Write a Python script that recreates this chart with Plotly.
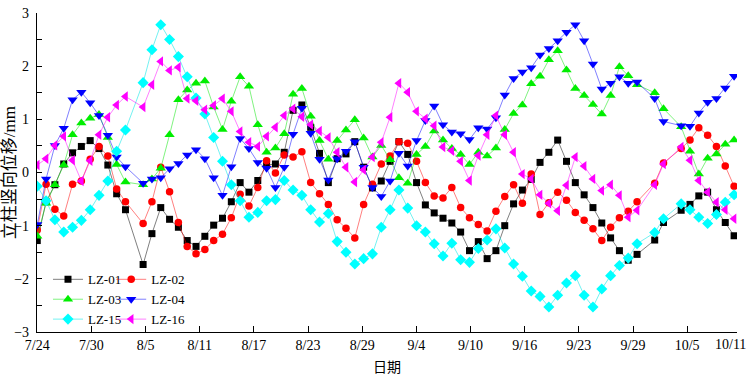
import plotly.graph_objects as go

# measurement slots (one per observation; a few dates have no reading)
slots = [0, 1, 2, 3, 4, 5, 6, 7, 8, 9, 10,
         12, 13, 14, 15, 16, 17, 18, 19, 20, 21, 22, 23, 24, 25, 26, 27, 28, 29,
         30, 31, 32, 33, 34, 35, 36, 37, 38, 39, 40, 41, 42, 43, 44, 45, 46, 47,
         48, 49, 50, 51, 52, 53, 54, 55, 56, 57, 58, 59, 60, 61, 62, 63, 64, 65,
         66, 67, 68, 70, 71, 73, 74, 75, 76, 77, 78, 79]

tick_labels = ["7/24", "7/30", "8/5", "8/11", "8/17", "8/23", "8/29", "9/4",
               "9/10", "9/16", "9/23", "9/29", "10/5", "10/11"]

lz01 = [-1.28, -0.55, -0.23, 0.16, 0.37, 0.49, 0.60, 0.45, 0.14, -0.40, -0.70,
        -1.73, -1.15, -0.66, -0.88, -1.03, -1.28, -1.39, -1.20, -0.99, -0.86, -0.55,
        -0.19, -0.37, -0.15, 0.14, 0.16, 0.38, 1.17, 1.27, 0.85, 0.36, -0.19, 0.26,
        0.35, 0.58, 0.10, -0.29, -0.16, 0.21, 0.58, 0.34, -0.19, -0.61, -0.76, -0.86,
        -0.95, -1.12, -1.47, -1.30, -1.62, -1.47, -1.00, -0.59, -0.33, -0.13, 0.19,
        0.38, 0.61, 0.21, -0.19, -0.42, -0.66, -0.95, -1.23, -1.47, -1.65, -1.54,
        -1.27, -0.94, -0.71, -0.60, -0.44, -0.37, -0.70, -0.94, -1.19]

lz02 = [-1.08, -0.22, -0.69, -0.82, -0.22, -0.16, 0.25, 0.49, 0.31, -0.31, -0.55,
        -0.96, -0.55, 0.10, -0.36, -0.94, -1.39, -1.53, -1.45, -1.28, -1.16, -0.85,
        -0.41, -0.63, -0.28, 0.22, -0.01, 0.33, 0.29, 0.39, -0.19, -0.40, -0.60,
        -0.89, -1.05, -1.23, -0.60, -0.22, 0.16, 0.31, 0.58, 0.55, 0.21, -0.19,
        -0.44, -0.48, -0.28, -0.66, -0.85, -0.98, -1.10, -0.73, -0.45, -0.23, -0.58,
        -0.03, -0.79, -0.57, -0.37, -0.52, -0.75, -0.90, -1.06, -1.28, -1.03, -0.85,
        -0.73, -0.55, -0.20, 0.18, 0.45, 0.61, 0.84, 0.70, 0.49, 0.12, -0.26]

lz03 = [-1.20, -0.58, -0.23, 0.14, 0.71, 0.93, 1.02, 1.09, 0.66, 0.15, -0.18,
        -0.23, -0.12, 0.08, 0.71, 1.37, 1.55, 1.68, 1.72, 1.23, 0.81, 1.34, 1.80,
        1.62, 0.90, 0.38, 0.46, 0.73, 1.47, 1.58, 1.06, 0.60, 0.25, 0.60, 0.80,
        0.99, 0.65, 0.29, 0.51, 0.24, -0.10, -0.20, 0.34, 0.49, 0.78, 0.61, 0.45,
        0.34, 0.15, 0.38, 0.31, 0.46, 0.81, 1.11, 1.27, 1.67, 1.81, 2.12, 2.29,
        1.93, 1.58, 1.45, 1.28, 1.10, 1.45, 1.99, 1.82, 1.65, 1.50, 1.20, 0.86,
        0.40, -0.03, 0.27, 0.35, 0.53, 0.61]

lz04 = [-0.98, -0.12, 0.51, 0.83, 1.37, 1.51, 1.31, 1.07, 0.70, 0.29, 0.11,
        -0.20, -0.12, -0.10, 0.07, 0.17, 0.33, 0.43, 0.26, -0.10, -0.43, 0.11,
        0.64, 0.45, 0.19, 0.08, -0.28, 0.10, 0.72, 1.21, 0.74, 0.25, -0.14, 0.26,
        0.40, 0.58, 0.10, -0.28, -0.45, -0.16, 0.36, 0.12, 0.60, 0.98, 1.25, 0.90,
        0.76, 0.73, 0.62, 0.84, 0.82, 1.03, 1.46, 1.77, 1.89, 1.97, 2.21, 2.33,
        2.48, 2.64, 2.78, 2.48, 2.04, 1.57, 1.68, 1.80, 1.68, 1.70, 1.39, 0.96,
        0.88, 0.87, 1.12, 1.32, 1.39, 1.59, 1.81]

lz15 = [-0.26, -0.53, -0.89, -1.12, -1.03, -0.90, -0.70, -0.43, -0.16, 0.40, 0.80,
        1.69, 2.31, 2.78, 2.50, 2.18, 1.80, 1.40, 1.10, 0.66, 0.21, -0.23, -0.53,
        -0.84, -0.75, -0.53, -0.51, -0.15, -0.33, -0.43, -0.70, -0.93, -0.77,
        -1.30, -1.50, -1.72, -1.62, -1.53, -1.03, -0.70, -0.33, -0.67, -1.00,
        -1.12, -1.34, -1.57, -1.33, -1.64, -1.69, -1.43, -1.27, -1.06, -1.42,
        -1.72, -1.95, -2.23, -2.33, -2.53, -2.31, -2.08, -1.94, -2.31, -2.53,
        -2.19, -1.94, -1.75, -1.61, -1.34, -1.13, -0.87, -0.59, -0.70, -0.84,
        -0.96, -0.79, -0.56, -0.42]

lz16 = [0.14, 0.26, 0.51, 0.68, 0.23, -0.16, 0.22, 0.71, 1.04, 1.27, 1.43,
        1.23, 1.65, 2.09, 1.92, 1.98, 1.39, 1.35, 1.18, 1.26, 1.39, 1.15, 0.77,
        0.57, 0.49, 0.68, 0.85, 1.07, 1.20, 1.05, 0.90, 0.78, 0.66, 0.38, 0.10,
        -0.18, 0.05, 0.29, 0.57, 1.04, 1.68, 1.51, 1.15, 1.01, 0.88, 0.48, 0.41,
        0.21, -0.15, 0.32, 0.71, 1.07, 0.71, 0.38, -0.03, -0.12, -0.42, -0.58,
        -0.72, -0.24, 0.29, 0.12, -0.12, -0.34, -0.23, -0.43, -0.84, -0.71, -0.23,
        0.16, 0.48, 0.23, -0.15, -0.37, -0.56, -0.70, -0.87]

series = [
    ("LZ-01", lz01, "#000000", "rgba(0,0,0,0.5)", "square", 7, "legend"),
    ("LZ-02", lz02, "#ff0000", "rgba(255,0,0,0.5)", "circle", 7.5, "legend2"),
    ("LZ-03", lz03, "#00ee00", "rgba(0,230,0,0.5)", "triangle-up", 9, "legend"),
    ("LZ-04", lz04, "#0000ff", "rgba(0,0,255,0.5)", "triangle-down", 9, "legend2"),
    ("LZ-15", lz15, "#00ffff", "rgba(0,230,230,0.55)", "diamond", 8.5, "legend"),
    ("LZ-16", lz16, "#ff00ff", "rgba(255,0,255,0.5)", "triangle-left", 9, "legend2"),
]

fig = go.Figure()
for name, vals, mc, lc, sym, sz, lg in series:
    fig.add_trace(go.Scatter(
        x=slots, y=vals, name=name, mode="lines+markers",
        line=dict(color=lc, width=1),
        marker=dict(color=mc, symbol=sym, size=sz, line=dict(width=0)),
        legend=lg,
    ))

tick_step = 6.14
tickvals = [i * tick_step for i in range(13)] + [79.3]
# last label is drawn separately so it stays inside the picture
ticktext = tick_labels[:-1] + [""]

serif = "Liberation Serif, Times New Roman, serif"
cjk = "Liberation Serif, Noto Sans CJK SC, serif"

fig.update_layout(
    width=748, height=378,
    margin=dict(l=37, r=11, t=13, b=46),
    paper_bgcolor="white", plot_bgcolor="white",
    font=dict(family=serif, size=14, color="black"),
    xaxis=dict(
        range=[-0.03, 79.33], tickmode="array", tickvals=tickvals, ticktext=ticktext,
        ticks="inside", ticklen=6, tickwidth=1, tickcolor="black",
        showline=True, linecolor="black", linewidth=1.3, showgrid=False, zeroline=False,
        tickfont=dict(family=serif, size=14, color="black"),
        ticklabelstandoff=0, ticklabeloverflow="allow", automargin=False,
        title=dict(text="日期", font=dict(family=cjk, size=14, color="black"), standoff=10),
    ),
    yaxis=dict(
        range=[-3, 3], tickmode="linear", tick0=-3, dtick=1,
        ticks="inside", ticklen=5, tickwidth=1, tickcolor="black",
        minor=dict(dtick=0.5, tick0=-3, ticks="inside", ticklen=5, tickwidth=1, tickcolor="black"),
        showline=True, linecolor="black", linewidth=1.3, showgrid=False, zeroline=False,
        tickfont=dict(family=serif, size=14, color="black"),
        ticklabelstandoff=4, ticklabeloverflow="allow", automargin=False,
    ),
    legend=dict(x=0.0157, y=0.212, xanchor="left", yanchor="top",
                bgcolor="rgba(0,0,0,0)", font=dict(family=serif, size=13, color="black"),
                tracegroupgap=0),
    legend2=dict(x=0.106, y=0.212, xanchor="left", yanchor="top",
                 bgcolor="rgba(0,0,0,0)", font=dict(family=serif, size=13, color="black"),
                 tracegroupgap=0),
    annotations=[
        dict(text="立柱竖向位移/mm", textangle=-90, xref="paper", yref="paper",
             x=-0.039, y=0.5, xanchor="center", yanchor="middle", showarrow=False,
             font=dict(family=cjk, size=17, color="black")),
        dict(text=tick_labels[-1], xref="paper", yref="paper",
             x=1, y=0, xanchor="right", yanchor="top", xshift=10, yshift=-4,
             showarrow=False, borderpad=0,
             font=dict(family=serif, size=14, color="black")),
    ],
)

fig.write_html("out.html", config={"displayModeBar": False},
               post_script="document.body.style.margin='0px';")
